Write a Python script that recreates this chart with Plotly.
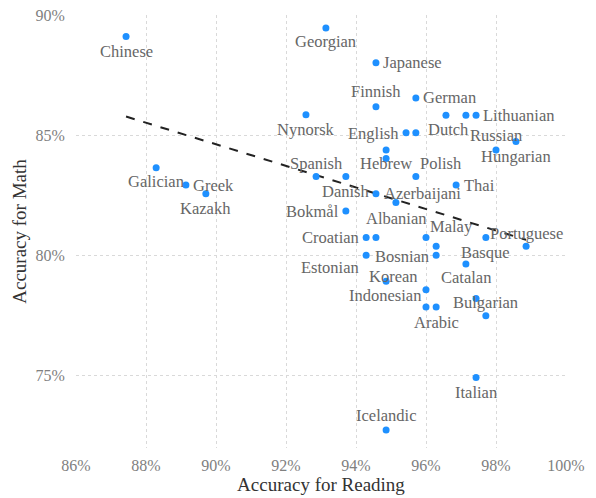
import numpy as np
import plotly.graph_objects as go

# ---- data ----
languages = [
    "Chinese", "Georgian", "Japanese", "Finnish", "German", "Nynorsk", "", "",
    "Lithuanian", "English", "Dutch", "Hungarian", "Russian", "Hebrew", "",
    "Galician", "Greek", "Kazakh", "Spanish", "Danish", "Polish", "Thai",
    "Azerbaijani", "Albanian", "Bokmål", "Croatian", "", "Malay", "Basque",
    "Portuguese", "", "Bosnian", "Estonian", "Catalan", "Korean", "Indonesian",
    "", "", "Arabic", "Bulgarian", "Italian", "Icelandic",
]
reading_acc = [
    87.43, 93.14, 94.57, 94.57, 95.71, 92.57, 96.57, 97.14,
    97.43, 95.43, 95.71, 98.57, 98.00, 94.86, 94.86,
    88.29, 89.14, 89.71, 92.86, 93.71, 95.71, 96.86,
    94.57, 95.14, 93.71, 94.29, 94.57, 96.00, 97.71,
    98.86, 96.29, 96.29, 94.29, 97.14, 94.86, 96.00,
    97.43, 96.00, 96.29, 97.71, 97.43, 94.86,
]
math_acc = [
    89.11, 89.46, 88.01, 86.19, 86.55, 85.85, 85.83, 85.83,
    85.83, 85.11, 85.11, 84.74, 84.39, 84.39, 84.03,
    83.65, 82.93, 82.57, 83.29, 83.29, 83.29, 82.93,
    82.57, 82.21, 81.85, 80.75, 80.75, 80.75, 80.75,
    80.39, 80.39, 80.01, 80.01, 79.65, 78.93, 78.58,
    78.21, 77.86, 77.86, 77.50, 74.93, 72.75,
]
x_ticks = [86, 88, 90, 92, 94, 96, 98, 100]
x_tick_labels = ["86%", "88%", "90%", "92%", "94%", "96%", "98%", "100%"]
y_ticks = [75, 80, 85, 90]
y_tick_labels = ["75%", "80%", "85%", "90%"]

# ---- label placement (pixel offsets from the point: dx, dy-down, anchor) ----
placement = {
    "Chinese": (0, 15, "center"), "Georgian": (0, 14, "center"),
    "Japanese": (5, 0, "left"), "Finnish": (0, -15, "center"),
    "German": (5, 0, "left"), "Nynorsk": (0, 15, "center"),
    "Lithuanian": (5, 0, "left"), "English": (-5, 1, "right"),
    "Dutch": (10, -3, "left"), "Hungarian": (0, 15, "center"),
    "Russian": (0, -14, "center"), "Hebrew": (0, 14, "center"),
    "Galician": (0, 14, "center"), "Greek": (5, 0, "left"),
    "Kazakh": (0, 15, "center"), "Spanish": (0, -13, "center"),
    "Danish": (0, 15, "center"), "Polish": (25, -13, "center"),
    "Thai": (6, 0, "left"), "Azerbaijani": (6, 0, "left"),
    "Albanian": (0, 16, "center"), "Bokmål": (-5, 0, "right"),
    "Croatian": (-5, 0, "right"), "Malay": (25, -11, "center"),
    "Basque": (0, 15, "center"), "Portuguese": (0, -13, "center"),
    "Bosnian": (-5, 1, "right"), "Estonian": (-5, 12, "right"),
    "Catalan": (0, 14, "center"), "Korean": (7, -5, "center"),
    "Arabic": (0, 15, "center"), "Bulgarian": (0, -13, "center"),
    "Italian": (0, 15, "center"), "Icelandic": (0, -14, "center"),
}

FONT = "Liberation Serif"

fig = go.Figure()

# trend line (least squares fit of the points)
xa = np.array(reading_acc)
ya = np.array(math_acc)
slope, intercept = np.polyfit(xa, ya, 1)
xl = np.array([xa.min(), xa.max()])
fig.add_trace(go.Scatter(
    x=xl, y=slope * xl + intercept, mode="lines",
    line=dict(color="#222222", width=2, dash="dash"),
    hoverinfo="skip", showlegend=False,
))

fig.add_trace(go.Scatter(
    x=reading_acc, y=math_acc, mode="markers",
    marker=dict(color="#1E90FF", size=7),
    text=languages, showlegend=False,
))

annotations = []
for name, x, y in zip(languages, reading_acc, math_acc):
    if not name:
        continue
    if name == "Indonesian":
        annotations.append(dict(
            x=x, y=y, text=name, showarrow=True, ax=-41, ay=6,
            arrowhead=0, arrowwidth=0.8, arrowcolor="#999999",
            standoff=3, font=dict(family=FONT, size=16.5, color="#666666"),
        ))
        continue
    dx, dy, anchor = placement[name]
    annotations.append(dict(
        x=x, y=y, text=name, showarrow=False,
        xanchor=anchor, yanchor="middle", xshift=dx, yshift=-dy,
        font=dict(family=FONT, size=16.5, color="#666666"),
    ))

fig.update_layout(
    width=596, height=498,
    margin=dict(l=76, r=30, t=15, b=50),
    paper_bgcolor="white", plot_bgcolor="white",
    font=dict(family=FONT, color="#666666"),
    annotations=annotations,
    xaxis=dict(
        range=[86, 100], tickvals=x_ticks, ticktext=x_tick_labels,
        showgrid=True, gridcolor="#d9d9d9", griddash="dot", gridwidth=1,
        zeroline=False, showline=False,
        ticks="outside", ticklen=3, tickcolor="rgba(0,0,0,0)",
        tickfont=dict(family=FONT, size=16, color="#808080"),
        title=dict(text="Accuracy for Reading", standoff=2,
                   font=dict(family=FONT, size=19, color="#333333")),
        automargin=False,
    ),
    yaxis=dict(
        range=[72, 90], tickvals=y_ticks, ticktext=y_tick_labels,
        showgrid=True, gridcolor="#d9d9d9", griddash="dot", gridwidth=1,
        zeroline=False, showline=False,
        ticks="outside", ticklen=7, tickcolor="rgba(0,0,0,0)",
        tickfont=dict(family=FONT, size=16, color="#808080"),
        title=dict(text="Accuracy for Math", standoff=3,
                   font=dict(family=FONT, size=19, color="#333333")),
        automargin=False,
    ),
)

fig.write_html("out.html", config={"displayModeBar": False},
               post_script="document.body.style.margin='0px';")
